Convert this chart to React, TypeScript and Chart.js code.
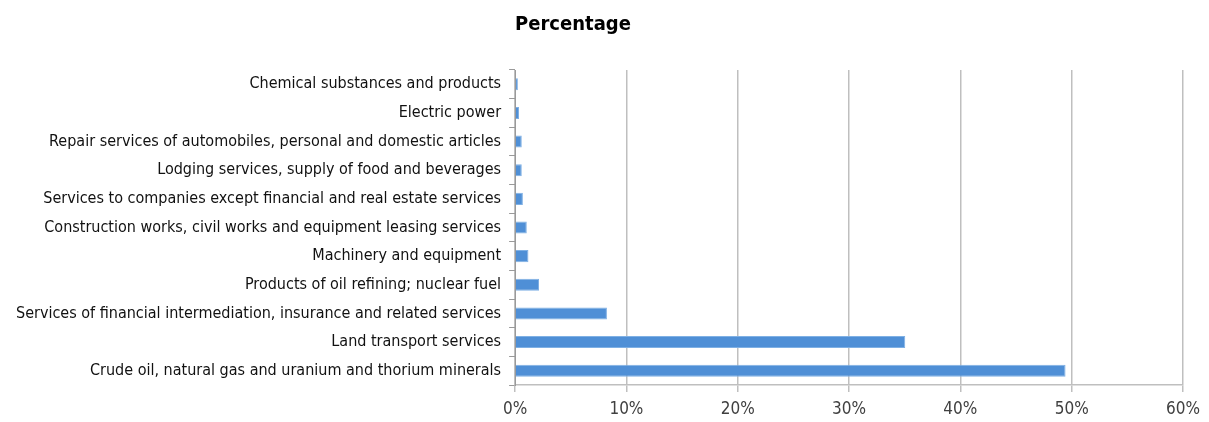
import React, { useEffect, useRef } from "react";
import { Chart, registerables } from "chart.js";

Chart.register(...registerables);

const categories = [
  "Chemical substances and products",
  "Electric power",
  "Repair services of automobiles, personal and domestic articles",
  "Lodging services, supply of food and beverages",
  "Services to companies except financial and real estate services",
  "Construction works, civil works and equipment leasing services",
  "Machinery and equipment",
  "Products of oil refining; nuclear fuel",
  "Services of financial intermediation, insurance and related services",
  "Land transport services",
  "Crude oil, natural gas and uranium and thorium minerals",
];

const percentages = [0.25, 0.35, 0.6, 0.6, 0.7, 1.05, 1.2, 2.15, 8.25, 35.05, 49.45];

const titleText = "Percentage";
const xMin = 0;
const xMax = 60;
const xStep = 10;

const FONT = "'Liberation Sans Narrow', 'DejaVu Sans Condensed', 'Roboto Condensed', sans-serif";

export default function App() {
  const ref = useRef<HTMLCanvasElement | null>(null);
  useEffect(() => {
    if (!ref.current) return;
    const chart = new Chart(ref.current, {
      type: "bar",
      data: {
        labels: categories,
        datasets: [
          {
            data: percentages,
            backgroundColor: "#4F8FD6",
            borderColor: "#7FB0E4",
            borderWidth: 1,
            barPercentage: 0.42,
            categoryPercentage: 1,
          },
        ],
      },
      options: {
        indexAxis: "y",
        animation: false,
        responsive: true,
        maintainAspectRatio: false,
        layout: { padding: { top: 0, right: 0, left: 0, bottom: 0 } },
        plugins: {
          legend: { display: false },
          tooltip: { enabled: false },
          title: {
            display: true,
            text: titleText,
            align: "start",
            fullSize: false,
            color: "#000",
            font: { family: FONT, size: 20, weight: "bold", lineHeight: 1.2 },
            padding: { top: 5, bottom: 33 },
          },
        },
        scales: {
          x: {
            min: xMin,
            max: xMax,
            afterFit: (scale: any) => {
              scale.height = 37;
              scale.paddingRight = 18;
            },
            ticks: {
              stepSize: xStep,
              color: "#404040",
              font: { family: FONT, size: 17 },
              padding: 7,
              callback: (v: any) => v + "%",
            },
            grid: {
              color: "#BFBFBF",
              lineWidth: 1.5,
              drawTicks: true,
              tickLength: 7,
            },
            border: { color: "#BFBFBF", width: 1.5 },
          },
          y: {
            ticks: {
              color: "#111",
              font: { family: FONT, size: 16 },
              padding: 8,
            },
            grid: {
              display: true,
              drawOnChartArea: false,
              drawTicks: true,
              tickLength: 6,
              color: "#9A9A9A",
              lineWidth: 1,
              offset: true,
            },
            border: { color: "#9A9A9A", width: 1 },
          },
        },
      },
    });
    return () => chart.destroy();
  }, []);
  return (
    <div style={{ width: 1193, height: 414, marginBottom: -8, position: "relative" }}>
      <canvas ref={ref} />
    </div>
  );
}
